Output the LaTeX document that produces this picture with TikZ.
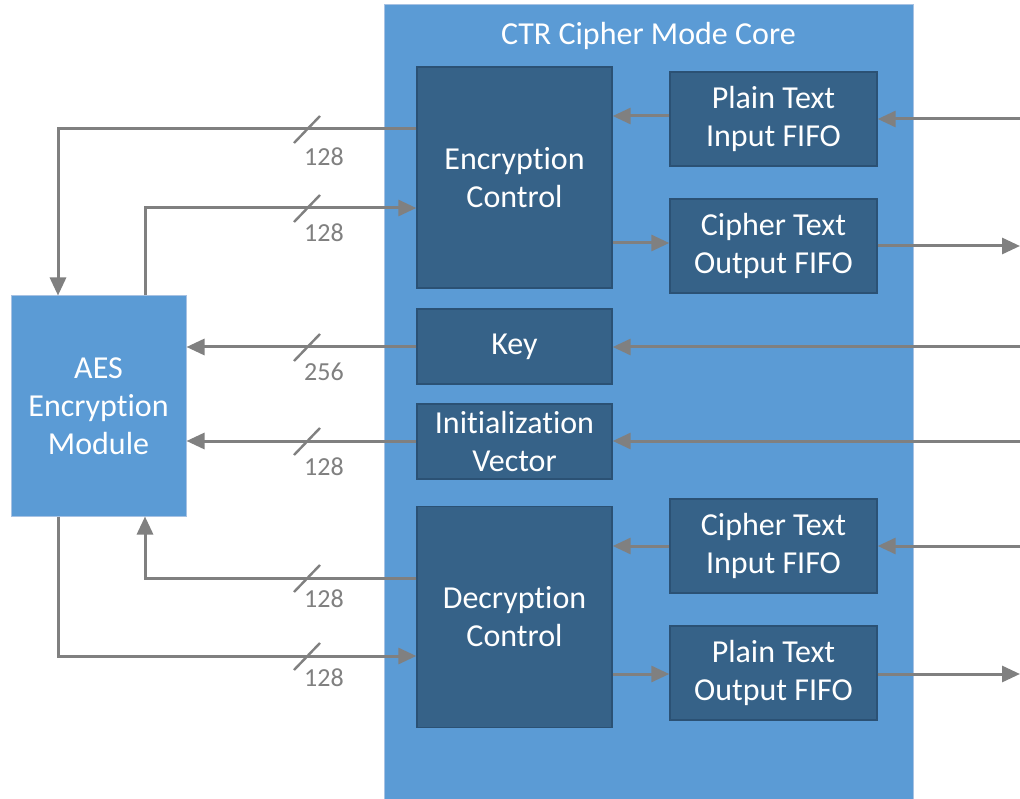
\documentclass[tikz,border=0pt]{standalone}
\usepackage{fontspec}
\setmainfont{Carlito}[Ligatures=NoCommon]
\usetikzlibrary{arrows.meta}
\definecolor{coreblue}{HTML}{5B9BD5}
\definecolor{coreedge}{HTML}{A7C2E3}
\definecolor{blockblue}{HTML}{366288}
\definecolor{blockedge}{HTML}{2B5174}
\definecolor{wiregrey}{HTML}{808080}
% bus-width tick: x, wire y, label y, width text
\newcommand{\busmark}[4]{%
  \draw[wiregrey, line width=2.4pt] (#1-13,#2+14) -- (#1+13,#2-13);
  \node[buslabel] at (#1-3,#3) {#4};}
\begin{document}
\begin{tikzpicture}[x=1pt,y=-1pt,
  block/.style={draw=blockedge, line width=1.4pt, fill=blockblue, text=white,
    font=\fontsize{32}{38}\selectfont, align=center, inner sep=0pt},
  aesbox/.style={draw=coreedge, line width=1pt, fill=coreblue, text=white,
    font=\fontsize{32}{38}\selectfont, align=center, inner sep=0pt,
    minimum width=175pt, minimum height=220pt},
  ctrl/.style={block, minimum width=195pt, minimum height=221pt},
  reg/.style={block, minimum width=195pt, minimum height=75pt},
  fifo/.style={block, minimum width=207pt, minimum height=94pt},
  wire/.style={draw=wiregrey, line width=3pt, -{Triangle[length=18pt,width=16pt]}},
  buslabel/.style={text=wiregrey, font=\fontsize{26}{30}\selectfont, anchor=west, inner sep=0pt}]
\useasboundingbox (0,0) rectangle (1020,799);
\fill[white] (0,0) rectangle (1020,799);

% core container
\node[draw=coreedge, line width=1pt, fill=coreblue, minimum width=529pt,
  minimum height=800pt, inner sep=0pt, anchor=north west] (core) at (384,4) {};
\node[text=white, font=\fontsize{32}{38}\selectfont, inner sep=0pt] (title) at (648.5,36) {CTR Cipher Mode Core};

% blocks inside the core
\node[ctrl] (enc) at (514.5,177.5) {Encryption\\Control};
\node[ctrl] (dec) at (514.5,617) {Decryption\\Control};
\node[reg] (key) at (514.5,346.5) {Key};
\node[reg] (iv) at (514.5,441.5) {Initialization\\Vector};
\node[fifo] (pin) at (773.5,119) {Plain Text\\Input FIFO};
\node[fifo] (cout) at (773.5,246) {Cipher Text\\Output FIFO};
\node[fifo] (cin) at (773.5,546) {Cipher Text\\Input FIFO};
\node[fifo] (pout) at (773.5,673) {Plain Text\\Output FIFO};

% external cipher engine
\node[aesbox] (aes) at (98.5,406) {AES\\Encryption\\Module};

% off-picture ports on the right
\coordinate (p1) at (1020,119);
\coordinate (p2) at (1020,246);
\coordinate (p3) at (1020,347);
\coordinate (p4) at (1020,441);
\coordinate (p5) at (1020,546);
\coordinate (p6) at (1020,674);

% buses between the core and the AES module
\draw[wire] (enc.west |- 0,129) -| (aes.north -| 58,0);
\draw[wire] (aes.north -| 145,0) |- (enc.west |- 0,208);
\draw[wire] (key.west |- p3) -- (aes.east |- p3);
\draw[wire] (iv.west |- p4) -- (aes.east |- p4);
\draw[wire] (dec.west |- 0,578) -| (aes.south -| 145,0);
\draw[wire] (aes.south -| 58,0) |- (dec.west |- 0,656);

\busmark{307}{129}{157}{128}
\busmark{307}{208}{233}{128}
\busmark{307}{347}{372}{256}
\busmark{307}{441}{467}{128}
\busmark{307}{578}{599}{128}
\busmark{307}{656}{678}{128}

% data paths inside the core and to the ports
\draw[wire] (pin.west |- 0,116) -- (enc.east |- 0,116);
\draw[wire] (p1) -- (pin.east |- p1);
\draw[wire] (enc.east |- 0,243) -- (cout.west |- 0,243);
\draw[wire] (cout.east |- p2) -- (p2);
\draw[wire] (p3) -- (key.east |- p3);
\draw[wire] (p4) -- (iv.east |- p4);
\draw[wire] (p5) -- (cin.east |- p5);
\draw[wire] (cin.west |- p5) -- (dec.east |- p5);
\draw[wire] (dec.east |- p6) -- (pout.west |- p6);
\draw[wire] (pout.east |- p6) -- (p6);
\end{tikzpicture}
\end{document}
